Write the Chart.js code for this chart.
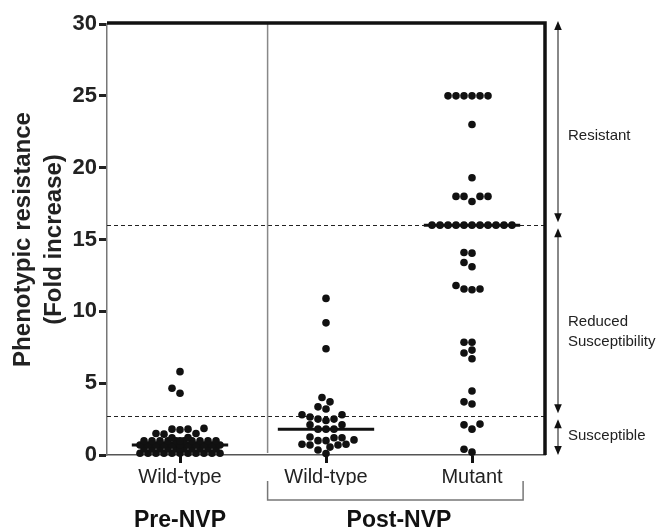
<!DOCTYPE html>
<html>
<head>
<meta charset="utf-8">
<title>Phenotypic resistance</title>
<script src="https://cdn.jsdelivr.net/npm/chart.js@4.4.1/dist/chart.umd.min.js"></script>
<style>
    body { margin: 0; background: #fff; }
    #chart { display: block; }
</style>
</head>
<body>
<canvas id="chart" width="661" height="531"></canvas>
<script>
// categories along the x axis and the two study phases below them
const categories = ['Wild-type', 'Wild-type', 'Mutant'];
const phases = ['Pre-NVP', 'Post-NVP'];

// fold increase
const preWildType = [
    5.8, 4.65, 4.3,
    1.85, 1.8, 1.8, 1.75,
    1.5, 1.5, 1.45,
    1.22, 1.2,
    0.98, 0.98, 0.98, 0.98, 0.98, 0.98, 0.98, 0.98, 0.98, 0.98, 0.98,
    0.7, 0.7, 0.7, 0.7, 0.7, 0.7, 0.7, 0.7, 0.7, 0.7, 0.7,
    0.42, 0.42, 0.42, 0.42, 0.42, 0.42, 0.42, 0.42, 0.42, 0.42, 0.42,
    0.12, 0.12, 0.12, 0.12, 0.12, 0.12, 0.12, 0.12, 0.12, 0.12, 0.12
];
const postWildType = [
    10.9, 9.2, 7.4, 4.0, 3.7, 3.35, 3.2,
    2.8, 2.8, 2.65, 2.5, 2.5, 2.4, 2.1, 2.1,
    1.8, 1.8, 1.8,
    1.25, 1.2, 1.2, 1.05, 1.0, 1.0,
    0.75, 0.75, 0.7, 0.7, 0.55, 0.35, 0.1
];
const postMutant = [
    25, 25, 25, 25, 25, 25, 23.0, 19.3,
    18, 18, 18, 18, 17.65,
    16, 16, 16, 16, 16, 16, 16, 16, 16, 16, 16,
    14.1, 14.05, 13.4, 13.1,
    11.8, 11.55, 11.55, 11.5,
    7.85, 7.85, 7.3, 7.1, 6.7,
    4.45, 3.7, 3.55,
    2.15, 2.1, 1.8,
    0.4, 0.2
];
const yTicks = [0, 5, 10, 15, 20, 25, 30];

// susceptibility zones on the right
const cutoffs = [2.7, 16];
const zoneNames = [['Susceptible'], ['Reduced', 'Susceptibility'], ['Resistant']];
const zoneLabelAt = [1.35, 8.6, 22.2];

const splitAt = 1.6;     // thin line between pre and post
const bracketEnd = 3.35;
const medianHalf = 0.33;

const FONT = "'Liberation Sans', Arial, sans-serif";

function median(values) {
    const s = values.slice().sort((a, b) => a - b);
    const m = Math.floor(s.length / 2);
    return s.length % 2 ? s[m] : (s[m - 1] + s[m]) / 2;
}

// beeswarm: walk outwards from the centre until the dot fits,
// if nothing fits inside the band take the least crowded spot
function swarm(values, center, xScale, yScale) {
    const step = 4, minDist = 7.5, maxOff = 41;
    const cx = xScale.getPixelForValue(center);
    const placed = [];
    values.slice().sort((a, b) => a - b).forEach(v => {
        const py = yScale.getPixelForValue(v);
        let best = null, bestDist = -1;
        for (let k = 0; ; k++) {
            const off = k === 0 ? 0 : (k % 2 ? -1 : 1) * Math.ceil(k / 2) * step;
            if (Math.abs(off) > maxOff) break;
            let near = Infinity;
            placed.forEach(p => {
                near = Math.min(near, Math.hypot(p.px - (cx + off), p.py - py));
            });
            if (near >= minDist) { best = off; break; }
            if (near > bestDist) { bestDist = near; best = off; }
        }
        placed.push({ px: cx + best, py: py, v: v });
    });
    return placed.map(p => ({ x: xScale.getValueForPixel(p.px), y: p.v }));
}

function arrowHead(ctx, x, y, dir) {
    ctx.beginPath();
    ctx.moveTo(x, y);
    ctx.lineTo(x - 3.8, y + dir * 9);
    ctx.lineTo(x + 3.8, y + dir * 9);
    ctx.closePath();
    ctx.fill();
}

const decorations = {
    id: 'decorations',
    beforeDatasetsDraw(chart) {
        const { ctx, chartArea: a, scales: { x, y } } = chart;
        ctx.save();
        // cut-off lines
        ctx.strokeStyle = '#222';
        ctx.lineWidth = 1;
        ctx.setLineDash([4, 3]);
        cutoffs.forEach(c => {
            const py = Math.round(y.getPixelForValue(c)) + 0.5;
            ctx.beginPath();
            ctx.moveTo(a.left, py);
            ctx.lineTo(a.right, py);
            ctx.stroke();
        });
        ctx.setLineDash([]);
        // pre / post divider
        const sx = x.getPixelForValue(splitAt);
        ctx.strokeStyle = '#888';
        ctx.lineWidth = 1.5;
        ctx.beginPath();
        ctx.moveTo(sx, a.top);
        ctx.lineTo(sx, a.bottom - 2);
        ctx.stroke();
        ctx.restore();
    },
    afterDraw(chart) {
        const { ctx, chartArea: a, scales: { x, y } } = chart;
        ctx.save();

        // heavy top and right frame
        ctx.strokeStyle = '#111';
        ctx.lineWidth = 3.5;
        ctx.beginPath();
        ctx.moveTo(a.left, a.top - 1);
        ctx.lineTo(a.right, a.top - 1);
        ctx.lineTo(a.right, a.bottom);
        ctx.stroke();

        // zone arrows
        const ax = a.right + 13;
        const bounds = [0].concat(cutoffs, [30]);
        ctx.fillStyle = '#111';
        for (let i = 0; i < zoneNames.length; i++) {
            const yBot = y.getPixelForValue(bounds[i]) - (i === 0 ? 0 : 3);
            const yTop = y.getPixelForValue(bounds[i + 1]) + (i === zoneNames.length - 1 ? -3 : 3);
            ctx.strokeStyle = '#888';
            ctx.lineWidth = 2;
            ctx.beginPath();
            ctx.moveTo(ax, yTop + 8);
            ctx.lineTo(ax, yBot - 8);
            ctx.stroke();
            arrowHead(ctx, ax, yTop, 1);
            arrowHead(ctx, ax, yBot, -1);

            ctx.fillStyle = '#222';
            ctx.font = '15px ' + FONT;
            ctx.textAlign = 'left';
            ctx.textBaseline = 'middle';
            const lines = zoneNames[i];
            const cy = y.getPixelForValue(zoneLabelAt[i]);
            lines.forEach((t, j) => {
                ctx.fillText(t, ax + 10, cy + (j - (lines.length - 1) / 2) * 20);
            });
            ctx.fillStyle = '#111';
        }

        // bracket under the post-NVP categories
        const bx1 = x.getPixelForValue(splitAt);
        const bx2 = x.getPixelForValue(bracketEnd);
        const by = a.bottom + 45;
        ctx.strokeStyle = '#777';
        ctx.lineWidth = 1.5;
        ctx.beginPath();
        ctx.moveTo(bx1, a.bottom + 26);
        ctx.lineTo(bx1, by);
        ctx.lineTo(bx2, by);
        ctx.lineTo(bx2, a.bottom + 26);
        ctx.stroke();

        // phase labels
        ctx.fillStyle = '#111';
        ctx.font = 'bold 23px ' + FONT;
        ctx.textAlign = 'center';
        ctx.textBaseline = 'middle';
        ctx.fillText(phases[0], x.getPixelForValue(1), a.bottom + 66);
        ctx.fillText(phases[1], x.getPixelForValue(2.5), a.bottom + 66);
        ctx.restore();
    }
};

document.addEventListener('DOMContentLoaded', () => {
    const ctx = document.getElementById('chart');
    const groups = [preWildType, postWildType, postMutant];
    const dotStyle = {
        type: 'scatter',
        backgroundColor: '#111',
        borderWidth: 0,
        pointRadius: 3.8,
        pointHoverRadius: 3.8,
        clip: false
    };

    const dotSets = groups.map((vals, i) => Object.assign({}, dotStyle, {
        label: categories[i],
        data: vals.map(v => ({ x: i + 1, y: v }))
    }));
    const medianSets = groups.map((vals, i) => {
        const m = median(vals);
        return {
            type: 'line',
            label: 'median ' + categories[i],
            data: [{ x: i + 1 - medianHalf, y: m }, { x: i + 1 + medianHalf, y: m }],
            borderColor: '#111',
            borderWidth: 3,
            pointRadius: 0,
            clip: false
        };
    });

    const chart = new Chart(ctx, {
        type: 'scatter',
        data: { datasets: dotSets.concat(medianSets) },
        options: {
            responsive: false,
            animation: false,
            layout: { padding: { left: 0, top: 24, right: 116, bottom: 46 } },
            plugins: {
                legend: { display: false },
                tooltip: { enabled: false }
            },
            scales: {
                x: {
                    type: 'linear',
                    min: 0.5,
                    max: 3.5,
                    afterBuildTicks: axis => {
                        axis.ticks = categories.map((c, i) => ({ value: i + 1 }));
                    },
                    afterFit: scale => { scale.height = 30; },
                    ticks: {
                        autoSkip: false,
                        maxRotation: 0,
                        padding: 2,
                        color: '#222',
                        font: { family: FONT, size: 20 },
                        callback: value => categories[value - 1]
                    },
                    grid: {
                        drawOnChartArea: false,
                        tickLength: 8,
                        tickWidth: 3,
                        tickColor: '#111'
                    },
                    border: { color: '#555', width: 1.5 }
                },
                y: {
                    min: 0,
                    max: 30,
                    afterBuildTicks: axis => {
                        axis.ticks = yTicks.map(v => ({ value: v }));
                    },
                    afterFit: scale => { scale.width = 107; },
                    ticks: {
                        padding: 2,
                        color: '#222',
                        font: { family: FONT, size: 22, weight: 'bold' }
                    },
                    grid: {
                        drawOnChartArea: false,
                        tickLength: 8,
                        tickWidth: 3,
                        tickColor: '#222'
                    },
                    border: { color: '#777', width: 1.5 },
                    title: {
                        display: true,
                        text: ['Phenotypic resistance', '(Fold increase)'],
                        color: '#222',
                        padding: { top: 8, bottom: 0 },
                        font: { family: FONT, size: 24, weight: 'bold', lineHeight: 1.3 }
                    }
                }
            }
        },
        plugins: [decorations]
    });

    // spread the dots once the scales know their pixel sizes
    groups.forEach((vals, i) => {
        chart.data.datasets[i].data = swarm(vals, i + 1, chart.scales.x, chart.scales.y);
    });
    chart.update('none');
});
</script>
</body>
</html>
